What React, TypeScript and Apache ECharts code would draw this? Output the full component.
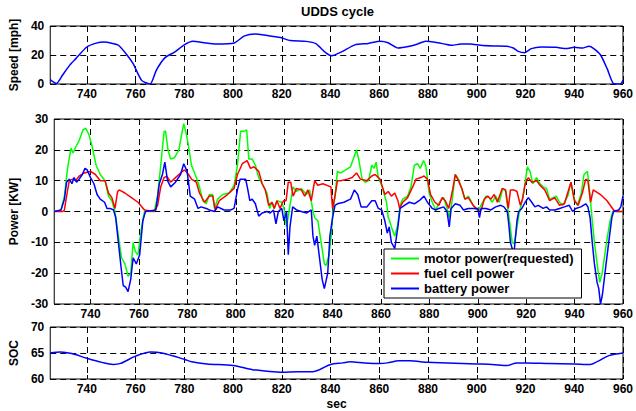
import React, { useEffect, useRef } from "react";
import * as echarts from "echarts";

const xTicks = [740, 760, 780, 800, 820, 840, 860, 880, 900, 920, 940, 960];

const speedT = [725, 727.5, 730, 733, 735.5, 740, 743.5, 747, 750.5, 753, 756.5, 759, 762.5, 766, 768.5, 772, 776, 780, 783.5, 788, 793, 800.5, 804.5, 809, 814, 819.5, 823.5, 830, 834, 838, 840.5, 844.7, 850, 855.5, 860.3, 863.6, 867.7, 872.4, 875.8, 879, 884, 887.3, 890, 893.4, 897.4, 901.5, 906.9, 912.3, 915, 917, 919.7, 922.4, 926.5, 932.6, 936.6, 940, 943.4, 946, 948, 950.8, 953.5, 956.2, 958.9, 960];
const speedV = [3, 0.3, 6, 13, 17.5, 25.5, 28, 29, 28, 26.7, 20, 14, 2.5, 0, 9.4, 18, 22, 27, 29.4, 28.5, 27.6, 28.3, 33, 34.5, 33.5, 32, 30, 29.4, 27.8, 21.6, 19.5, 22.3, 27, 28, 29.5, 28.5, 24.8, 26, 27.6, 29.5, 28.5, 27.4, 26.7, 27.6, 27.6, 26.7, 26.2, 26, 24.8, 22.5, 21.6, 24.4, 25.5, 25.3, 24.4, 25.3, 24.8, 26, 24.4, 20, 10.6, 0.2, 0, 2.5];

const motorT = [725, 727.8, 729.2, 730.5, 731.9, 732.8, 733.9, 735.3, 736.9, 738, 739.3, 740.7, 742.3, 744, 746, 747.4, 748.8, 750.1, 751.5, 752.8, 754.2, 755.5, 756.6, 757.6, 758.5, 759.6, 760.9, 762.3, 766.3, 767.7, 769, 770.4, 771, 772, 773.1, 774.7, 776.5, 777.4, 778.5, 779.6, 780.3, 781.7, 783.7, 785, 786.4, 787.8, 789.1, 790.5, 791.2, 792.5, 794.6, 797.3, 799.3, 800.7, 802, 803.4, 804.5, 805.4, 806.8, 808.1, 809.5, 810.9, 812.9, 814, 815, 815.9, 817, 819, 819.9, 821, 822.4, 823.7, 825.1, 827.1, 829.2, 830.5, 831.9, 832.6, 833.9, 835.3, 836.6, 837.3, 838.6, 839.4, 840.2, 841, 842, 843.4, 845.4, 847.4, 848.8, 849.9, 850.8, 852.2, 853.5, 854.9, 856.2, 857.2, 858, 858.9, 860.3, 861.2, 862.3, 863, 863.6, 864.3, 865.7, 867, 867.9, 869, 871, 872.4, 873.8, 875.1, 876.2, 877.6, 878.5, 879.9, 881.2, 882.6, 884.6, 885.9, 887.3, 888.2, 889.3, 890.7, 892, 893.1, 894.7, 896.1, 898.1, 899.5, 900.7, 902, 903.4, 904.7, 906, 907.4, 908.8, 910.4, 911.5, 912.2, 913.1, 914.2, 915.1, 916.2, 917.2, 918.2, 919.3, 920.5, 921.6, 922.7, 924.3, 925.7, 927, 928.4, 929.7, 931.1, 932.4, 933.8, 935.1, 937.2, 938.5, 939.9, 941.2, 942.8, 943.9, 945.3, 946.4, 947.3, 948.2, 949.3, 950.4, 951.4, 952.3, 953.4, 954.7, 955.8, 960];
const motorV = [0, 0.5, 5, 14, 20.5, 19, 21, 23, 26.5, 27, 25, 21, 15, 12, 10, 5, 3.5, 0, -8, -15, -17, -21, -20, -10, -13, -14, -6, 0, 0, 5, 15, 26, 26, 20, 17, 17.5, 20, 24, 28.5, 25, 22, 15, 11, 8, 3.5, 2.5, 5.5, 5.5, 1, 4, 5.5, 6, 8.5, 15, 26, 26, 26.5, 17, 17, 15, 11, 9, 6, 1, 3, 1, 3.5, 3, 1, -5, 2, 8, 6.5, 7.5, 5.5, 7, 0, -2, -3, -10, -17, -17.5, -14, -8, 0, 5, 13, 12.5, 13.5, 14.5, 17.5, 20, 17, 10.5, 9.5, 10, 15, 14, 16, 11, 8.5, 6, 3, -2, -3, -5, -8, -4, 2, 4, 5, 8, 15, 15.5, 14, 16.5, 15, 6, 3, 0.5, 3.5, 4.5, 1, -2, 3, 12, 10.5, 8, 4, 5, 2, 0.5, 1, 3, 5, 4.5, 3, 5, 3, 7.5, 6.5, 2, -3, -10, -10.5, -5, 0, 3, 8, 14.5, 13, 9, 11, 9, 8, 7.5, 4, 4.5, 5, 3, 2, 5, 9.5, 4, 2, 6, 12, 13, 5, -3, -10, -17, -23, -20, -15, -9, -3, 0, 0];

const fuelT = [725, 728.5, 729.2, 730.1, 731.2, 732.6, 733.9, 735.3, 737.3, 740, 742, 744, 746, 747.4, 748.8, 750.1, 751.2, 751.8, 754.2, 756.9, 759.6, 762.3, 766.3, 767.7, 769, 770.4, 771.5, 773.1, 775.1, 777.2, 778.8, 780.5, 781.7, 783.7, 785, 787.1, 789.1, 790.5, 791.5, 793.2, 796.6, 799.3, 800.7, 802.7, 804.7, 806.1, 807.5, 809.5, 810.9, 812.2, 813.6, 815, 815.9, 817, 818.3, 819.7, 820.8, 821.7, 822.7, 823.7, 825.1, 827.1, 828.5, 829.8, 831.2, 832.6, 833.9, 836, 839.3, 840, 841, 842, 843.4, 846.1, 848.1, 849.9, 851.5, 854.2, 856.2, 857.6, 859.6, 861.6, 863, 864.3, 865.7, 867, 867.7, 869, 871, 873.1, 874.5, 876.5, 877.8, 879.2, 880.5, 882.3, 883.9, 885.3, 886.6, 888, 889.6, 890.7, 892, 893.4, 894.7, 896.1, 898.1, 900.1, 901.4, 902.7, 904.1, 905.4, 906.8, 908.1, 910.1, 911.5, 912.6, 913.5, 914.9, 916.2, 917.6, 918.5, 919.6, 920.9, 922.3, 924.3, 925.7, 927.7, 929.7, 931.8, 933.8, 935.8, 938.5, 939.9, 941.5, 943.2, 944.6, 945.5, 946.6, 947.7, 950.7, 953.4, 956.1, 957.4, 960];
const fuelV = [0, 0, 0.5, 5, 10, 10.5, 10, 11.5, 12.5, 13, 12, 10, 10, 6, 4.5, 1, 6.5, 7, 6, 4.5, 3, 0.5, 0, 2, 8, 11, 11.5, 9.5, 11, 12.5, 13.5, 12, 10.5, 9.5, 6, 3, 5, 5, 0.5, 3.5, 5.5, 7.5, 12, 15.5, 16.5, 14, 14.5, 13, 9, 7, 2, 3, 1, 3.5, 1, 3.5, 3.5, 9.5, 9.5, 5, 7.5, 7, 5, 7, 3.5, 10, 8.5, 9, 8, 1, 5, 10, 10, 10.5, 11, 12.5, 10.5, 10, 11.5, 12, 10.5, 5.5, 6.5, 5, 6, 3.5, 1, 3, 4.5, 8, 10.5, 11, 11.5, 10.5, 5.5, 3, 2, 4.5, 3.5, 1, 7, 12, 10, 7.5, 4, 4.5, 2, 0.5, 0.5, 4, 5, 4, 5.5, 3, 7.5, 7, 1, 7, 7, 6.5, 2, 4, 9, 11, 9.5, 10, 8.5, 7, 3.5, 4.5, 2, 2.5, 9.5, 3.5, 2, 6, 10.5, 10, 3, 7, 5.5, 3.5, 0.5, 0, 0];

const batteryT = [725, 727.8, 729.2, 730.1, 731.2, 732.3, 733.2, 734.2, 735.3, 736.6, 737.7, 738.6, 740, 741.4, 742.7, 744, 745.8, 746.8, 748.1, 749.5, 750.4, 751.5, 752.6, 753.5, 754.5, 755.5, 756.6, 757.6, 758.9, 760.3, 761.6, 762.7, 767, 768.4, 769.7, 770.7, 771.8, 773.1, 775.1, 777.2, 778.5, 779.9, 781.2, 783, 784.4, 785.7, 787.8, 789.1, 791.2, 792.5, 795.2, 797.9, 799.3, 800.7, 801.8, 804.1, 805, 805.8, 806.8, 808.1, 809.5, 810.9, 812.9, 814.2, 815.6, 816.6, 817.6, 819, 819.9, 821, 821.7, 822.4, 823.5, 825.1, 827.1, 829.2, 831.2, 831.9, 832.6, 833.5, 834.6, 835.7, 836.6, 838, 838.9, 840, 841, 842, 844.7, 847.4, 849, 850.4, 851.8, 854.2, 856.2, 857.6, 858.9, 860.3, 861.6, 862.6, 863.4, 864.3, 865.7, 867, 867.9, 869.7, 871.7, 873.8, 875.8, 877.8, 879.2, 881.2, 882.6, 883.9, 885.9, 887.3, 888.2, 889, 890.7, 892.7, 894.1, 896.1, 898.1, 900, 900.7, 901.4, 903.4, 905.4, 907.4, 909.5, 910.8, 912.2, 912.8, 913.5, 914.2, 914.9, 915.5, 916.2, 916.9, 918.2, 919.6, 920.9, 922.3, 923.6, 925, 927, 928.4, 929.7, 931.8, 933.8, 935.8, 937.8, 939.2, 940.5, 942.6, 944.6, 945.5, 946.4, 947.3, 948.2, 949.3, 950, 950.7, 951.5, 952.7, 954.1, 955.4, 956.1, 958.2, 959.1, 960];
const batteryV = [0, 0.5, 4, 9.5, 10.5, 9, 11, 9.5, 10.5, 12, 14, 13.5, 11, 9, 5.5, 4, 3, 1, 1, 0.5, -2, -10, -18, -24, -24.5, -26, -22, -15, -17, -14, -3, 0, 0.5, 9, 12, 16, 10, 8, 9.5, 12, 15.5, 13, 5, 4, 1, 1.5, 1, 0.5, 0, 1.5, 0.5, 0.5, 1, 7, 10.5, 10.5, 7, 3.5, 4, 2.5, -1.5, -0.5, 0, -0.5, 0.5, -4, 0, 1, -3, 0, -14, -5, 1.5, 0.5, 0, -0.5, 0.5, -8, -11, -8, -15, -22, -25, -20, -8, -2, 2, 2.5, 3, 4, 7, 5.5, 1.5, 1.5, 3.5, 3.5, 1, 0.5, -3, -7, -5, -10, -12, -5, 1, 2, 3, 2.5, 3.5, 5, 3, 1, 0.5, 1, 1.5, 0, -5, 1, 2.5, 2, 0.5, 1, 1, 1, -2, 1, 1, 0.5, 1.5, 2, 1.5, 0, -4, -10, -12, -14, -9, -3, 0, 1, 3, 4.5, 3, 1.5, 2, 1, 1.5, 0.5, 0.5, 1, 1.5, 2, 0, 1, 1.5, 2.5, 1.5, -2, -10, -17, -23, -25, -30, -27, -19, -10, -2, 0, 0.5, 1.5, 5];

const socT = [725, 729.2, 733.8, 740, 746.2, 750.8, 753.9, 760, 766.2, 770.8, 780, 783.1, 789.3, 800, 808, 814, 820, 826.5, 832.7, 835.5, 840, 845, 848, 854, 860, 863.3, 868, 872.5, 880, 888, 900, 906.4, 912.6, 916.4, 920, 929.5, 940, 946.5, 949.6, 954.2, 960];
const socV = [65, 65.2, 64.9, 64, 63.2, 62.8, 63, 64.4, 65.2, 65, 63.8, 63.3, 62.9, 62.6, 61.8, 61.5, 61.3, 61.4, 61.4, 61.8, 62.8, 63.1, 63.3, 63.1, 63, 63.1, 63.5, 63.5, 63.2, 63.1, 62.9, 62.8, 62.6, 63.1, 63.1, 63, 62.9, 62.8, 63.4, 64.5, 65];

const zip = (t: number[], v: number[]) => t.map((x, i) => [x, v[i]]);

const FONT = "'Liberation Sans', Arial, sans-serif";
const dash = { color: "#000", width: 1, type: [6, 4] as number[] };

function xAxis(gridIndex: number, name?: string) {
  return {
    type: "value",
    gridIndex,
    min: 725,
    max: 960,
    name: name || "",
    nameLocation: "middle",
    nameGap: 19,
    nameTextStyle: { color: "#000", fontWeight: "bold", fontSize: 12, fontFamily: FONT },
    axisLine: { show: false },
    axisTick: { show: true, inside: true, length: 4, customValues: xTicks, lineStyle: { color: "#000" } },
    axisLabel: { customValues: xTicks, color: "#000", fontWeight: "bold", fontSize: 12, fontFamily: FONT, margin: 4, showMaxLabel: true, showMinLabel: true },
    splitLine: { show: true, lineStyle: dash },
  };
}

function yAxis(gridIndex: number, min: number, max: number, interval: number, name: string, nameGap: number) {
  return {
    type: "value",
    gridIndex,
    min,
    max,
    interval,
    name,
    nameLocation: "middle",
    nameRotate: 90,
    nameGap,
    nameTextStyle: { color: "#000", fontWeight: "bold", fontSize: 12, fontFamily: FONT },
    axisLine: { show: false },
    axisTick: { show: true, inside: true, length: 4, lineStyle: { color: "#000" } },
    axisLabel: { color: "#000", fontWeight: "bold", fontSize: 12, fontFamily: FONT, margin: 6 },
    splitLine: { show: true, lineStyle: dash },
  };
}

function line(name: string, xi: number, data: number[][], color: string, smooth: number | boolean = false) {
  return {
    type: "line",
    name,
    xAxisIndex: xi,
    yAxisIndex: xi,
    data,
    symbol: "none",
    smooth,
    lineStyle: { color, width: 1.5 },
    itemStyle: { color },
  };
}

export default function App() {
  const ref = useRef<HTMLDivElement>(null);
  useEffect(() => {
    if (!ref.current) return;
    const chart = echarts.init(ref.current, null, { renderer: "svg" });
    const gridBase = { show: true, left: 48, width: 580, borderColor: "#000", borderWidth: 1, backgroundColor: "transparent" };
    chart.setOption({
      animation: false,
      backgroundColor: "#fff",
      textStyle: { fontFamily: FONT },
      title: {
        text: "UDDS cycle",
        left: 296,
        top: 0,
        textStyle: { fontSize: 13, fontWeight: "bold", color: "#000", fontFamily: FONT },
      },
      legend: {
        data: ["motor power(requested)", "fuel cell power", "battery power"],
        orient: "vertical",
        left: 384,
        top: 249,
        itemWidth: 28,
        itemHeight: 13,
        itemGap: 2,
        padding: [3, 8, 3, 6],
        backgroundColor: "#fff",
        borderColor: "#000",
        borderWidth: 1,
        borderRadius: 0,
        itemStyle: { opacity: 0 },
        textStyle: { fontSize: 13, fontWeight: "bold", color: "#000", fontFamily: FONT },
      },
      grid: [
        { ...gridBase, top: 26, height: 58 },
        { ...gridBase, top: 119, height: 185 },
        { ...gridBase, top: 327, height: 55 },
      ],
      xAxis: [xAxis(0), xAxis(1), xAxis(2, "sec")],
      yAxis: [
        yAxis(0, 0, 40, 20, "Speed [mph]", 17),
        yAxis(1, -30, 30, 10, "Power [KW]", 25),
        yAxis(2, 60, 70, 5, "SOC", 17),
      ],
      series: [
        line("speed", 0, zip(speedT, speedV), "#0000ff", 0.2),
        line("motor power(requested)", 1, zip(motorT, motorV), "#00ff00"),
        line("fuel cell power", 1, zip(fuelT, fuelV), "#ff0000"),
        line("battery power", 1, zip(batteryT, batteryV), "#0000ff"),
        line("soc", 2, zip(socT, socV), "#0000ff", 0.3),
      ],
    });
    return () => chart.dispose();
  }, []);
  return <div ref={ref} style={{ position: "absolute", left: 0, top: 0, width: 636, height: 411 }} />;
}
